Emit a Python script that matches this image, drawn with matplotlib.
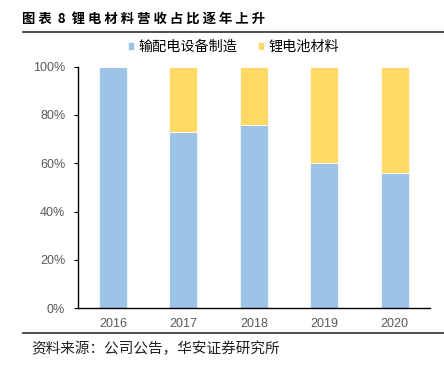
import numpy as np
import matplotlib

matplotlib.use("Agg")
import matplotlib.pyplot as plt
from matplotlib.lines import Line2D

plt.rcParams["font.family"] = ["Liberation Sans", "Noto Sans CJK SC", "DejaVu Sans"]

# data
years = ["2016", "2017", "2018", "2019", "2020"]
equipment = [1.00, 0.73, 0.76, 0.60, 0.56]  # 输配电设备制造
battery = [0.00, 0.27, 0.24, 0.40, 0.44]  # 锂电池材料
series_names = ["输配电设备制造", "锂电池材料"]
y_ticks = [0, 0.2, 0.4, 0.6, 0.8, 1.0]
y_labels = ["0%", "20%", "40%", "60%", "80%", "100%"]

title = "图 表  8  锂 电 材 料 营 收 占 比 逐 年 上 升"
source = "资料来源：公司公告，华安证券研究所"

blue = "#9DC3E6"
yellow = "#FFD966"
gray = "#595959"

fig = plt.figure(figsize=(4.44, 3.66), dpi=100)
ax = fig.add_axes([0.175, 0.158, 0.7935, 0.66])

x = np.arange(len(years))
ax.bar(x, equipment, width=0.4, color=blue, edgecolor="white", linewidth=0.5,
       label=series_names[0])
ax.bar(x, battery, width=0.4, bottom=equipment, color=yellow, edgecolor="white",
       linewidth=0.5, label=series_names[1])

ax.set_xlim(-0.5, len(years) - 0.5)
ax.set_ylim(0, 1.0)
ax.set_xticks(x)
ax.set_xticklabels(years)
ax.set_yticks(y_ticks)
ax.set_yticklabels(y_labels)

ax.tick_params(axis="x", length=0, pad=7, labelsize=9, labelcolor=gray)
ax.tick_params(axis="y", length=3, width=0.8, pad=6, labelsize=9, labelcolor=gray,
               direction="out")
for s in ["top", "right"]:
    ax.spines[s].set_visible(False)
ax.spines["left"].set_linewidth(1.0)
ax.spines["bottom"].set_linewidth(1.0)

fig.legend(loc="center", bbox_to_anchor=(0.526, 0.872), ncol=2, frameon=False,
           handlelength=0.45, handleheight=0.45, handletextpad=0.35,
           columnspacing=1.4, prop={"family": ["Noto Sans CJK SC"], "size": 10.2})

# title and source
fig.text(0.05, 0.948, title, fontsize=9.6, fontweight="bold",
         family=["Noto Sans CJK SC"], va="center", ha="left")
fig.add_artist(Line2D([0.051, 1.0], [0.912, 0.912], color="#404040", lw=1.3,
                      transform=fig.transFigure))
fig.add_artist(Line2D([0.051, 1.0], [0.089, 0.089], color="#404040", lw=1.3,
                      transform=fig.transFigure))
fig.text(0.071, 0.046, source, fontsize=10.5, family=["Noto Sans CJK SC"],
         va="center", ha="left", color="#202020")

plt.savefig("out.png", dpi=100)
